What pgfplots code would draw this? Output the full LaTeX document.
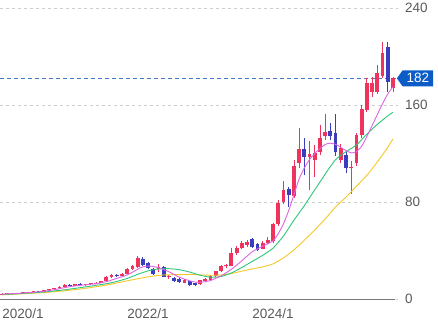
\documentclass[border=0pt]{standalone}
\usepackage{pgfplots}
\pgfplotsset{compat=1.18}
\usepackage{pgfplotstable}
\usepackage{fontspec}
\setmainfont{Liberation Sans}
\usetikzlibrary{shapes.symbols}
\definecolor{cup}{RGB}{238,52,92}
\definecolor{cdn}{RGB}{58,62,190}
\definecolor{cpink}{RGB}{222,100,228}
\definecolor{cgreen}{RGB}{48,196,124}
\definecolor{cyel}{RGB}{244,200,40}
\definecolor{ctxt}{RGB}{90,90,90}
\definecolor{cgrid}{RGB}{205,205,205}
\definecolor{caxis}{RGB}{120,120,120}
\definecolor{cprice}{RGB}{70,120,210}
\definecolor{cbox}{RGB}{12,92,200}

% month index m: 0 = 2020/1
\pgfplotstableread{
m o h l c
-4 4.0 4.6 3.6 4.3
-3 4.3 4.9 4.0 4.6
-1 4.4 5.3 4.2 5.0
0 5.0 5.7 4.7 5.4
1 5.4 6.1 5.0 5.9
2 5.9 6.7 5.5 6.4
4 6.0 7.6 5.6 7.3
5 7.3 8.4 7.0 8.1
6 8.1 9.2 7.8 8.8
7 8.8 10.6 8.5 10.3
8 10.3 12.2 9.8 11.7
10 10.9 12.4 10.6 12.0
12 11.5 12.6 11.0 12.3
13 12.3 13.3 11.8 12.9
14 12.9 14.0 12.4 13.6
15 13.6 14.8 13.0 14.6
16 14.6 18.8 14.3 18.2
17 18.2 20.3 17.5 19.6
19 18.7 21.3 18.3 21.0
20 21.0 25.5 20.5 24.5
21 24.5 28.0 23.8 27.0
22 26.5 35.5 25.5 33.5
26 25.0 28.5 22.0 26.0
28 18.2 19.8 16.5 19.0
31 13.5 16.8 13.0 16.0
34 12.0 16.0 11.5 15.5
35 14.5 17.5 14.0 16.5
36 15.5 19.5 14.5 18.8
37 19.0 23.5 18.5 22.8
38 22.8 28.0 22.0 27.0
39 27.0 29.0 25.5 27.8
40 27.5 42.0 27.0 37.7
41 37.7 44.0 36.0 42.2
42 42.0 48.0 41.0 46.0
43 44.5 49.0 43.0 47.3
46 41.5 48.0 41.0 46.5
47 46.5 51.0 45.0 49.0
48 48.0 63.0 46.5 61.5
49 61.5 82.0 60.0 79.0
50 80.0 97.0 78.0 90.0
52 85.0 115.0 83.0 110.0
53 112.0 141.0 108.0 123.5
55 117.5 130.0 90.0 120.0
56 115.0 127.0 101.0 120.5
57 121.5 143.5 119.0 132.5
58 134.5 152.6 131.0 138.0
61 114.6 128.0 112.0 124.3
63 107.8 114.0 87.0 109.0
64 112.0 137.0 110.0 135.0
65 135.0 160.0 133.0 157.0
66 156.0 182.0 154.0 178.0
67 171.0 183.0 167.0 178.0
68 171.0 193.0 169.0 186.5
69 184.0 212.0 182.0 203.0
71 174.0 183.5 171.0 182.0
}\tabup

\pgfplotstableread{
m o h l c
-2 4.6 5.0 4.1 4.4
3 6.4 7.0 5.8 6.0
9 11.7 12.4 10.6 10.9
11 12.0 12.9 11.2 11.5
18 19.6 21.0 18.2 18.7
23 33.0 34.5 27.0 28.0
24 29.5 30.5 24.5 25.3
25 24.5 25.8 20.0 21.0
27 26.5 27.5 18.0 18.5
29 17.5 18.2 13.8 14.5
30 16.5 17.2 13.5 14.0
32 14.5 15.2 11.0 11.8
33 12.8 13.5 10.5 11.5
44 49.5 50.5 42.0 43.0
45 45.4 46.5 39.5 40.4
51 90.5 92.0 76.0 86.0
54 123.5 132.5 102.0 117.5
59 138.5 145.5 131.0 134.5
60 137.0 152.6 118.0 121.0
62 118.8 121.0 103.7 107.8
70 208.0 212.0 171.0 179.0
}\tabdn

\pgfplotstableread{
m v
-4 4.0
-2 4.4
0 4.9
2 5.6
4 6.4
6 7.6
8 9.4
10 10.8
12 11.7
14 12.6
16 14.3
18 17.0
20 19.8
22 24.5
23 26.5
24 27.2
25 26.8
26 25.8
28 22.5
30 18.0
32 15.0
33 14.0
34 13.8
35 14.3
36 15.3
38 19.0
40 24.5
42 31.5
44 39.0
46 43.5
48 48.0
49 54.0
50 62.0
51 73.0
52 86.0
53 99.0
54 108.0
55 115.0
56 120.0
57 124.0
58 127.5
59 128.5
60 127.5
61 125.0
62 122.5
63 120.5
64 121.5
65 126.0
66 134.0
67 143.0
68 152.0
69 161.0
70 169.0
71 175.0
}\mapink

\pgfplotstableread{
m v
-4 3.8
-2 4.1
0 4.6
4 5.8
8 7.6
12 10.0
16 12.6
18 14.5
20 17.0
22 20.3
24 23.2
26 24.8
28 25.0
30 24.2
32 22.2
34 19.6
36 18.0
38 18.5
40 21.5
42 26.0
44 31.0
46 36.0
48 42.0
50 52.0
52 65.0
54 77.0
56 90.0
58 103.0
60 115.0
62 121.5
64 127.0
66 136.0
68 144.0
70 151.0
71 154.0
}\magreen

\pgfplotstableread{
m v
-4 3.4
-2 3.8
0 4.3
4 5.3
8 6.8
12 8.8
16 11.5
20 15.0
24 18.3
26 19.5
28 20.0
32 20.2
36 19.6
38 19.8
40 21.0
42 23.0
44 24.8
46 26.5
48 29.0
50 34.0
52 40.5
54 48.5
56 57.0
58 66.0
60 76.0
62 84.0
64 93.0
66 102.0
68 113.0
70 125.0
71 132.0
}\mayel

\begin{document}
\begin{tikzpicture}
\path[use as bounding box] (0,0) rectangle (438pt,325pt);
\begin{axis}[
  at={(0pt,26pt)}, anchor=south west,
  scale only axis, width=398pt, height=299pt,
  xmin=-4.415, xmax=71.98, ymin=0, ymax=246.6,
  axis line style={draw=none}, tick style={draw=none},
  major tick length=0pt,
  ytick={0,80,160,240}, yticklabels={0,80,160,240},
  yticklabel pos=right,
  xtick={0,24,48}, xticklabels={2020/1,2022/1,2024/1},
  ymajorgrids, grid style={cgrid, dash pattern=on 3pt off 3pt, line width=0.7pt},
  tick label style={font=\fontsize{13.5pt}{16pt}\selectfont, text=ctxt},
  yticklabel style={anchor=west, xshift=3.5pt},
  xticklabel style={anchor=north, yshift=-6pt},
  clip=false,
]
\addplot[caxis, line width=1pt] coordinates {(-4.415,0) (71.4,0)};
\addplot[cprice, line width=0.8pt, dash pattern=on 4pt off 3pt] coordinates {(-4.415,182) (71.73,182)};
% wicks
\addplot[draw=none, mark=none, error bars/.cd, y dir=plus, y explicit, error mark=none,
  error bar style={draw=cup, line width=0.8pt, solid}]
  table[x=m, y=l, y error expr=\thisrow{h}-\thisrow{l}] {\tabup};
\addplot[draw=none, mark=none, error bars/.cd, y dir=plus, y explicit, error mark=none,
  error bar style={draw=cdn, line width=0.8pt, solid}]
  table[x=m, y=l, y error expr=\thisrow{h}-\thisrow{l}] {\tabdn};
% bodies
\addplot[draw=none, mark=none, error bars/.cd, y dir=plus, y explicit, error mark=none,
  error bar style={draw=cup, line width=3.8pt, solid}]
  table[x=m, y=o, y error expr=\thisrow{c}-\thisrow{o}] {\tabup};
\addplot[draw=none, mark=none, error bars/.cd, y dir=plus, y explicit, error mark=none,
  error bar style={draw=cdn, line width=3.8pt, solid}]
  table[x=m, y=c, y error expr=\thisrow{o}-\thisrow{c}] {\tabdn};
% moving averages
\addplot[cyel, line width=0.9pt, smooth, tension=0.4] table[x=m, y=v] {\mayel};
\addplot[cgreen, line width=0.9pt, smooth, tension=0.4] table[x=m, y=v] {\magreen};
\addplot[cpink, line width=0.9pt, smooth, tension=0.4] table[x=m, y=v] {\mapink};
\node[signal, signal to=west, signal pointer angle=110, fill=cbox, text=white,
  inner xsep=4pt, inner ysep=0pt, minimum height=16pt, anchor=west,
  font=\fontsize{13.5pt}{16pt}\selectfont] at (axis cs:71.73,182) {182};
\end{axis}
\end{tikzpicture}
\end{document}
